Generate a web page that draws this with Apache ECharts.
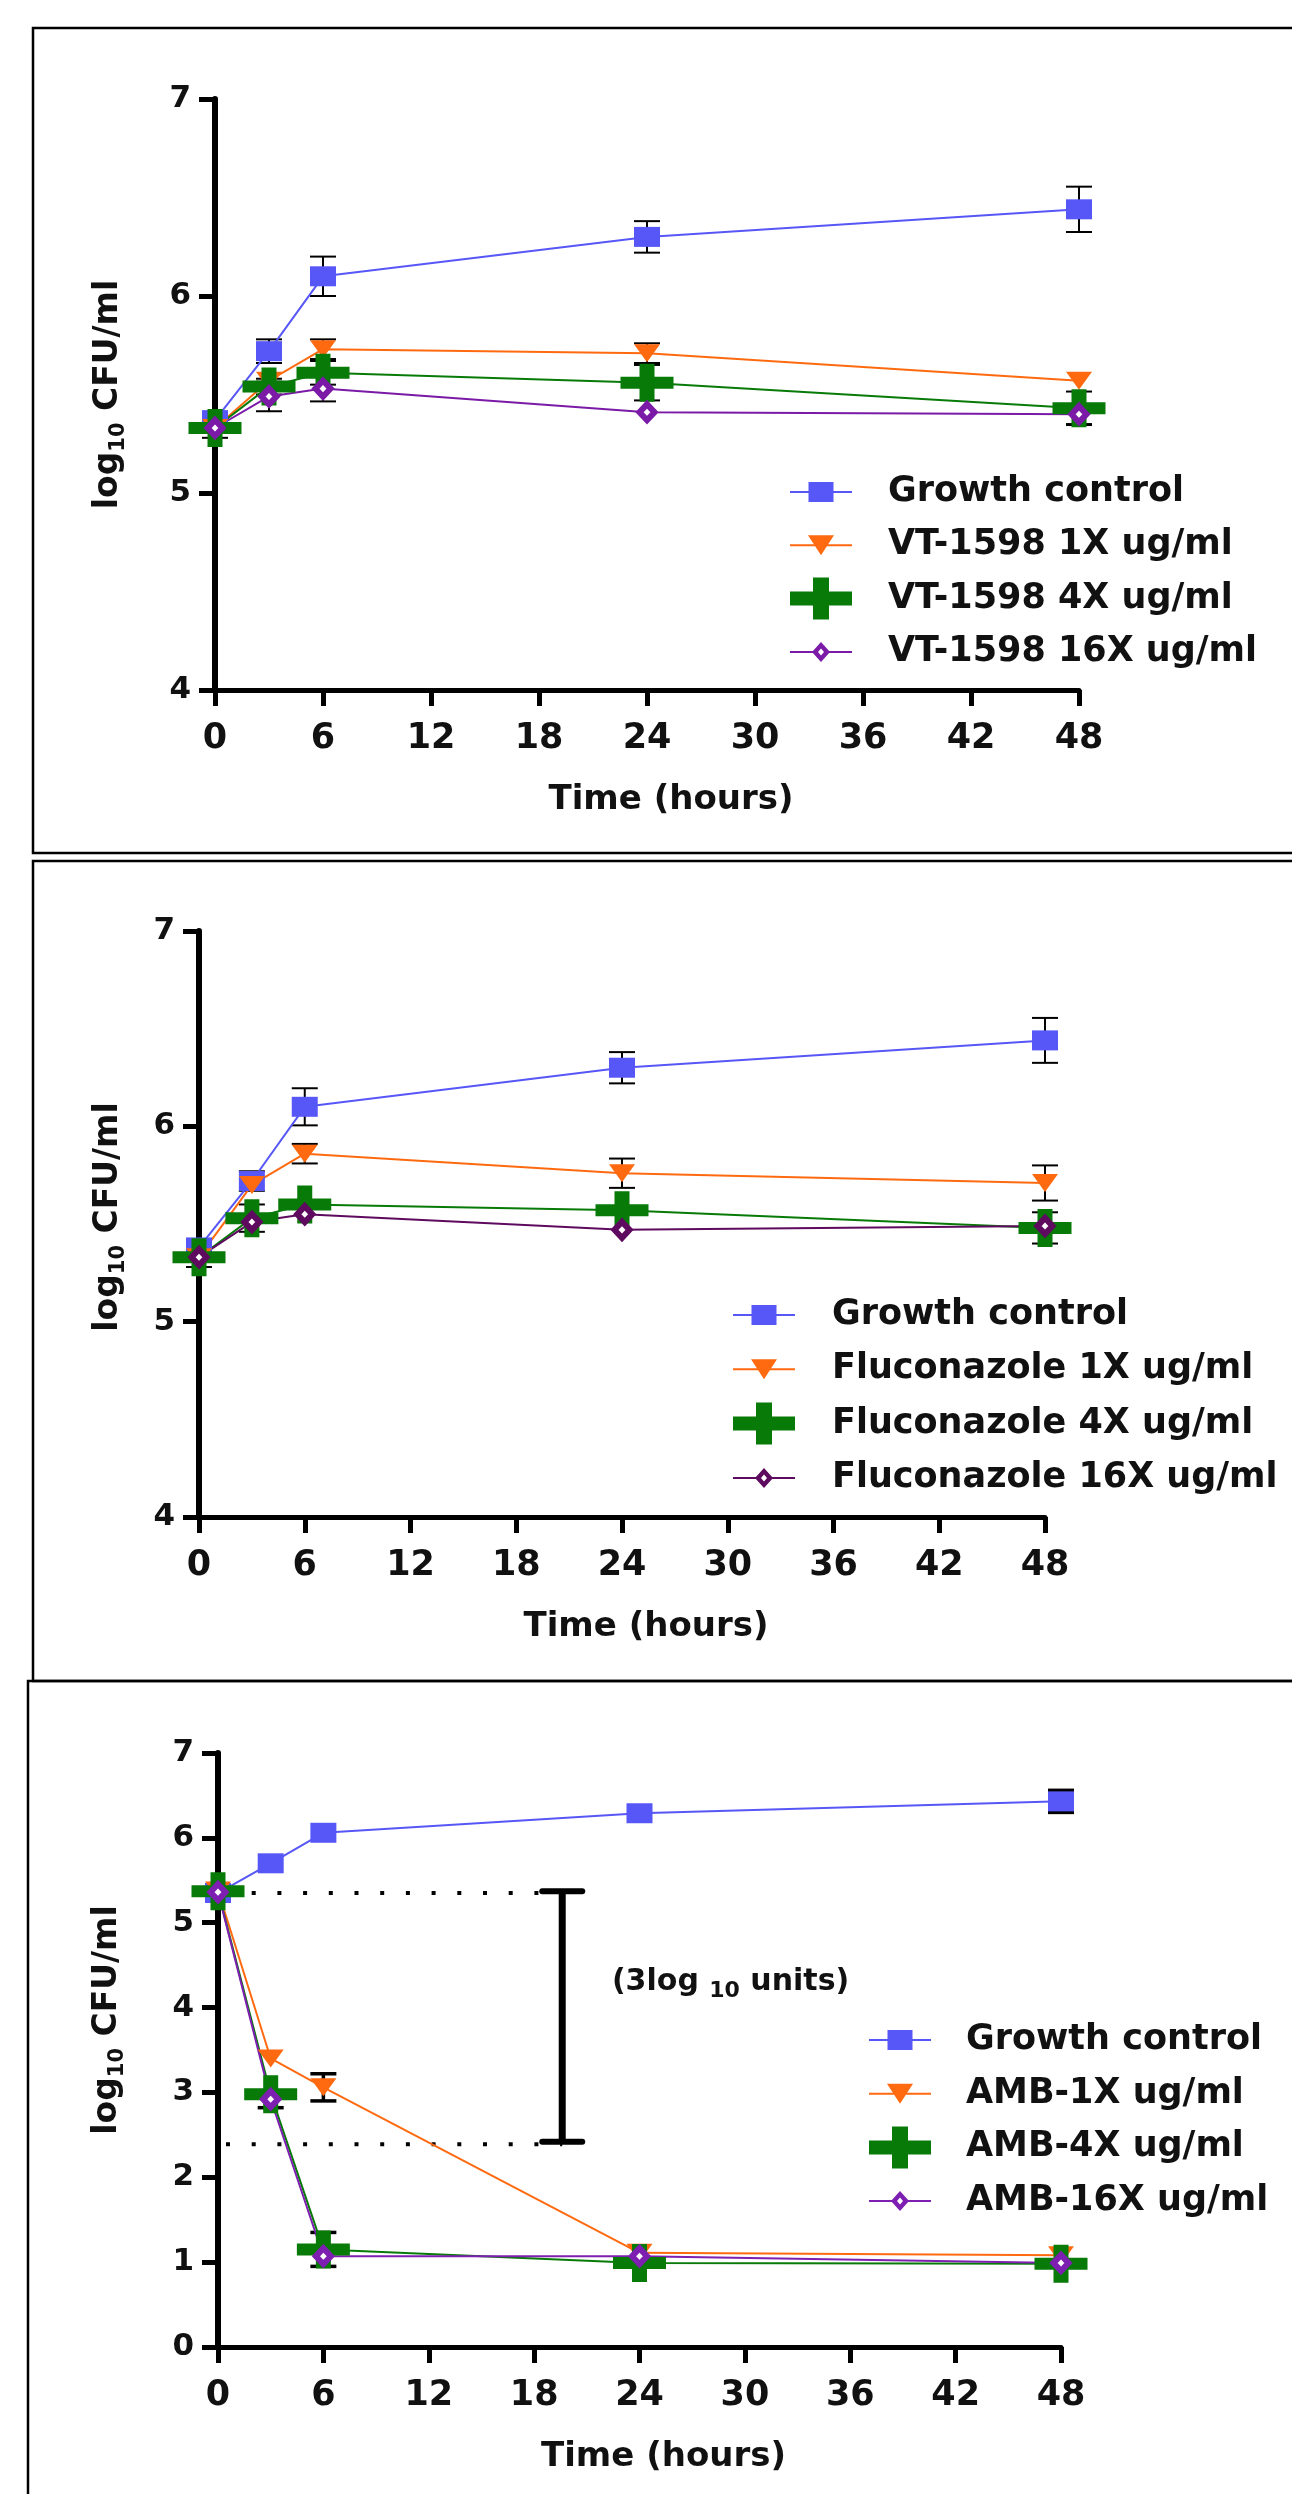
<!DOCTYPE html>
<html><head><meta charset="utf-8">
<script src="https://cdn.jsdelivr.net/npm/echarts@6/dist/echarts.min.js"></script>
<style>html,body{margin:0;padding:0;background:#fff;}#c{width:1292px;height:2494px;}</style>
</head><body><div id="c"></div>
<script>
// ---------- data ----------
const hours = [0, 3, 6, 24, 48];

// Panel A: VT-1598
const vtNames = ['Growth control', 'VT-1598 1X ug/ml', 'VT-1598 4X ug/ml', 'VT-1598 16X ug/ml'];
const vtGrowth = [5.37, 5.72, 6.10, 6.30, 6.44];
const vtGrowthErr = [0, 0.06, 0.10, 0.08, 0.115];
const vt1x = [5.33, 5.57, 5.73, 5.71, 5.57];
const vt1xErr = [0, 0, 0.05, 0.05, 0];
const vt4x = [5.33, 5.54, 5.61, 5.56, 5.43];
const vt4xErr = [0.05, 0.04, 0.06, 0.09, 0.085];
const vt16x = [5.33, 5.49, 5.53, 5.41, 5.40];
const vt16xErr = [0, 0.075, 0.065, 0, 0.05];

// Panel B: Fluconazole
const fluNames = ['Growth control', 'Fluconazole 1X ug/ml', 'Fluconazole 4X ug/ml', 'Fluconazole 16X ug/ml'];
const fluGrowth = [5.38, 5.72, 6.10, 6.30, 6.44];
const fluGrowthErr = [0, 0.05, 0.095, 0.08, 0.115];
const flu1x = [5.33, 5.70, 5.86, 5.76, 5.71];
const flu1xErr = [0, 0, 0.05, 0.075, 0.09];
const flu4x = [5.33, 5.53, 5.60, 5.57, 5.48];
const flu4xErr = [0.05, 0.07, 0, 0, 0.08];
const flu16x = [5.33, 5.51, 5.55, 5.47, 5.49];
const flu16xErr = [0, 0, 0, 0, 0];

// Panel C: Amphotericin B
const ambNames = ['Growth control', 'AMB-1X ug/ml', 'AMB-4X ug/ml', 'AMB-16X ug/ml'];
const ambGrowth = [5.35, 5.70, 6.06, 6.29, 6.43];
const ambGrowthErr = [0, 0, 0, 0, 0.13];
const amb1x = [5.38, 3.40, 3.06, 1.11, 1.08];
const amb1xErr = [0, 0, 0.16, 0, 0];
const amb4x = [5.37, 2.98, 1.15, 0.99, 0.98];
const amb4xErr = [0.06, 0, 0.2, 0, 0];
const amb16x = [5.36, 2.92, 1.07, 1.07, 0.99];
const amb16xErr = [0, 0.1, 0, 0, 0];

// 3-log reduction annotation (panel C)
const dotLevels = [5.35, 2.39];
const dotEndX = 19.6;
const bracket = [19.6, 5.37, 2.42];
const annotPos = [22.4, 4.3];
const annotText = ['(3log ', '10', ' units)'];

// axis ticks
const xMin = 0, xMax = 48, xStep = 6;
const yRangesAB = [4, 7];
const yRangeC = [0, 7];

// ---------- styling ----------
const FF = 'DejaVu Sans';
const TXT = '#111';
const BLUE = '#5757F7', ORANGE = '#FF6A10', GREEN = '#077A07';
const PURPLE_A = '#7A1AA6', PURPLE_B = '#5E0A5E', PURPLE_C = '#7D1FB0';

const grids = [
  { left: 215, top: 99, width: 864, height: 591 },
  { left: 199, top: 931, width: 846, height: 586 },
  { left: 218, top: 1753, width: 843, height: 594 }
];

const markers = [
  { symbol: 'rect', size: [26, 20], border: 0 },
  { symbol: 'path://M0 0 L26 0 L13 18 Z', size: [26, 18], border: 0 },
  { symbol: 'path://M0 13 H19 V0 H34 V13 H53 V25 H34 V38 H19 V25 H0 Z', size: [53, 38], border: 0 },
  { symbol: 'diamond', size: [15, 16], border: 6 }
];
const legendIcons = [
  'path://M0 9 H62 V11 H0 Z M18.5 0 H43.5 V20 H18.5 Z',
  'path://M0 9 H62 V11 H0 Z M18 0 H44 L31 20 Z',
  'path://M0 14 H23 V0 H39 V14 H62 V28 H39 V42 H23 V28 H0 Z',
  'path://M0 9 H23 V11 H0 Z M39 9 H62 V11 H39 Z M31 0 L40 10 L31 20 L22 10 Z M31 6.5 L28 10 L31 13.5 L34 10 Z'
];

const panels = [
  { names: vtNames, vals: [vtGrowth, vt1x, vt4x, vt16x], errs: [vtGrowthErr, vt1xErr, vt4xErr, vt16xErr],
    colors: [BLUE, ORANGE, GREEN, PURPLE_A], yr: yRangesAB, errW: 2,
    legend: { left: 790, top: 470, gap: 9.3, pad: 31 }, yNameGap: 86, yNamePad: [0, 0, 0, 0] },
  { names: fluNames, vals: [fluGrowth, flu1x, flu4x, flu16x], errs: [fluGrowthErr, flu1xErr, flu4xErr, flu16xErr],
    colors: [BLUE, ORANGE, GREEN, PURPLE_B], yr: yRangesAB, errW: 2,
    legend: { left: 733, top: 1293, gap: 10.3, pad: 32 }, yNameGap: 70, yNamePad: [0, 0, 0, 14] },
  { names: ambNames, vals: [ambGrowth, amb1x, amb4x, amb16x], errs: [ambGrowthErr, amb1xErr, amb4xErr, amb16xErr],
    colors: [BLUE, ORANGE, GREEN, PURPLE_C], yr: yRangeC, errW: 3.5,
    legend: { left: 869, top: 2018, gap: 9.7, pad: 30 }, yNameGap: 90, yNamePad: [0, 0, 0, 60] }
];

const nameRich = {
  a: { fontFamily: FF, fontWeight: 'bold', fontSize: 33, lineHeight: 42, color: TXT },
  s: { fontFamily: FF, fontWeight: 'bold', fontSize: 21, lineHeight: 24, verticalAlign: 'bottom', color: TXT }
};

const xAxes = [], yAxes = [], series = [], legends = [];
panels.forEach((p, i) => {
  xAxes.push({
    gridIndex: i, type: 'value', min: xMin, max: xMax, interval: xStep,
    axisLine: { show: true, onZero: false, lineStyle: { color: '#000', width: 5 } },
    axisTick: { show: true, length: 16, lineStyle: { color: '#000', width: 5 } },
    axisLabel: { color: TXT, fontFamily: FF, fontWeight: 'bold', fontSize: 35, margin: 31 },
    splitLine: { show: false },
    name: 'Time (hours)', nameLocation: 'middle', nameGap: 90,
    nameTextStyle: { color: TXT, fontFamily: FF, fontWeight: 'bold', fontSize: 34, lineHeight: 40, padding: [0, 0, 0, 48] }
  });
  yAxes.push({
    gridIndex: i, type: 'value', min: p.yr[0], max: p.yr[1], interval: 1,
    axisLine: { show: true, onZero: false, lineStyle: { color: '#000', width: 6 } },
    axisTick: { show: true, length: 16, lineStyle: { color: '#000', width: 5 } },
    axisLabel: { color: TXT, fontFamily: FF, fontWeight: 'bold', fontSize: 31, margin: 24 },
    splitLine: { show: false },
    name: '{a|log}{s|10}{a| CFU/ml}', nameLocation: 'middle', nameGap: p.yNameGap,
    nameTextStyle: { rich: nameRich, padding: p.yNamePad }
  });
  // error bars
  const errData = [];
  p.vals.forEach((arr, k) => arr.forEach((v, j) => {
    if (p.errs[k][j] > 0) errData.push([hours[j], v, p.errs[k][j]]);
  }));
  const lw = p.errW;
  series.push({
    type: 'custom', xAxisIndex: i, yAxisIndex: i, z: 1, silent: true, clip: false,
    encode: { x: 0, y: 1 }, data: errData,
    renderItem: (params, api) => {
      const x = api.value(0), m = api.value(1), e = api.value(2);
      const t = api.coord([x, m + e]), b = api.coord([x, m - e]);
      const hw = 13, st = { stroke: '#000', lineWidth: lw };
      return { type: 'group', children: [
        { type: 'line', shape: { x1: t[0], y1: t[1], x2: b[0], y2: b[1] }, style: st },
        { type: 'line', shape: { x1: t[0] - hw, y1: t[1], x2: t[0] + hw, y2: t[1] }, style: st },
        { type: 'line', shape: { x1: b[0] - hw, y1: b[1], x2: b[0] + hw, y2: b[1] }, style: st }
      ]};
    }
  });
  // lines + markers
  p.vals.forEach((arr, k) => {
    const mk = markers[k];
    series.push({
      type: 'line', name: p.names[k], xAxisIndex: i, yAxisIndex: i, z: 3, clip: false,
      data: hours.map((h, j) => [h, arr[j]]),
      symbol: mk.symbol, symbolSize: mk.size, showAllSymbol: true,
      itemStyle: mk.border ? { color: '#fff', borderColor: p.colors[k], borderWidth: mk.border }
                           : { color: p.colors[k], borderWidth: 0 },
      lineStyle: { color: p.colors[k], width: 2 },
      emphasis: { disabled: true }
    });
  });
  legends.push({
    orient: 'vertical', left: p.legend.left, top: p.legend.top,
    itemWidth: 62, itemHeight: 44, itemGap: p.legend.gap, selectedMode: false, symbolKeepAspect: true,
    padding: 0,
    textStyle: { color: TXT, fontFamily: FF, fontWeight: 'bold', fontSize: 35, lineHeight: 44, padding: [0, 0, 0, p.legend.pad] },
    data: p.names.map((n, k) => ({ name: n, icon: legendIcons[k], itemStyle: { color: p.colors[k], borderWidth: 0 } }))
  });
});

// panel C annotation: dotted reference lines, 3-log bracket, text
dotLevels.forEach(lv => {
  series.push({
    type: 'line', xAxisIndex: 2, yAxisIndex: 2, z: 2, symbol: 'none', silent: true, clip: false,
    data: [[xMin, lv], [dotEndX, lv]],
    lineStyle: { color: '#000', width: 4, type: [4, 21.7], dashOffset: 17.7 }
  });
});
series.push({
  type: 'custom', xAxisIndex: 2, yAxisIndex: 2, z: 4, silent: true, clip: false,
  encode: { x: 0, y: 1 }, data: [bracket],
  renderItem: (params, api) => {
    const x = api.value(0);
    const t = api.coord([x, api.value(1)]), b = api.coord([x, api.value(2)]);
    const hw = 20;
    return { type: 'group', children: [
      { type: 'line', shape: { x1: t[0], y1: t[1], x2: b[0], y2: b[1] }, style: { stroke: '#000', lineWidth: 7 } },
      { type: 'line', shape: { x1: t[0] - hw, y1: t[1], x2: t[0] + hw, y2: t[1] }, style: { stroke: '#000', lineWidth: 6, lineCap: 'round' } },
      { type: 'line', shape: { x1: b[0] - hw, y1: b[1], x2: b[0] + hw, y2: b[1] }, style: { stroke: '#000', lineWidth: 6, lineCap: 'round' } }
    ]};
  }
});
series.push({
  type: 'scatter', xAxisIndex: 2, yAxisIndex: 2, z: 4, silent: true,
  data: [annotPos], symbolSize: 1, itemStyle: { color: '#fff', opacity: 1 },
  emphasis: { disabled: true },
  label: {
    show: true, position: 'right', distance: 0, opacity: 1,
    formatter: '{a|' + annotText[0] + '}{s|' + annotText[1] + '}{a|' + annotText[2] + '}',
    rich: {
      a: { fontFamily: FF, fontWeight: 'bold', fontSize: 30, lineHeight: 40, color: '#111', opacity: 1 },
      s: { fontFamily: FF, fontWeight: 'bold', fontSize: 22, lineHeight: 24, verticalAlign: 'bottom', color: '#111', opacity: 1 }
    }
  }
});

const frameStyle = { fill: null, stroke: '#000', lineWidth: 2.5 };
const chart = echarts.init(document.getElementById('c'), null, { renderer: 'canvas' });
chart.setOption({
  animation: false,
  backgroundColor: '#fff',
  grid: grids.map(g => Object.assign({ containLabel: false, outerBoundsMode: 'none' }, g)),
  xAxis: xAxes,
  yAxis: yAxes,
  legend: legends,
  series: series,
  graphic: [
    { type: 'rect', silent: true, z: -10, shape: { x: 33, y: 28, width: 1300, height: 825 }, style: frameStyle },
    { type: 'rect', silent: true, z: -10, shape: { x: 33, y: 861, width: 1300, height: 820 }, style: frameStyle },
    { type: 'rect', silent: true, z: -10, shape: { x: 28, y: 1681, width: 1300, height: 900 }, style: frameStyle }
  ]
});
</script>
</body></html>
